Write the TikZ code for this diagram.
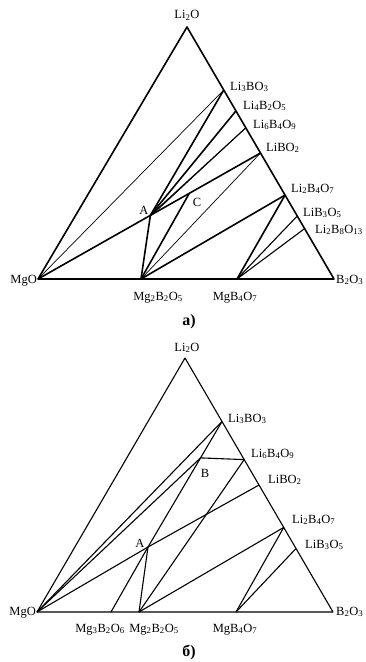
\documentclass[tikz,border=0pt]{standalone}
\usepackage{fontspec}
\setmainfont{Liberation Serif}
\usetikzlibrary{calc}
\newcommand{\idx}[1]{\textsubscript{#1}}

\begin{document}
\begin{tikzpicture}[x=1pt, y=-1pt, line join=round,
  thk/.style={line width=1.6pt},
  mid/.style={line width=1.1pt},
  thn/.style={line width=0.7pt},
  lbl/.style={font=\fontsize{12.5}{14}\selectfont, inner sep=0pt},
  captxt/.style={font=\fontsize{16}{18}\selectfont\bfseries, inner sep=0pt}]
  \useasboundingbox (0,0) rectangle (365,662);

  % --- a) ---
  \coordinate (aLi) at (187,27);
  \coordinate (aMg) at (38,279);
  \coordinate (aB)  at (334,279);
  \coordinate (aLi3BO3)   at ($(aLi)!0.25!(aB)$);
  \coordinate (aLi4B2O5)  at ($(aLi)!0.333!(aB)$);
  \coordinate (aLi6B4O9)  at ($(aLi)!0.4!(aB)$);
  \coordinate (aLiBO2)    at ($(aLi)!0.5!(aB)$);
  \coordinate (aLi2B4O7)  at ($(aLi)!0.667!(aB)$);
  \coordinate (aLiB3O5)   at ($(aLi)!0.75!(aB)$);
  \coordinate (aLi2B8O13) at ($(aLi)!0.8!(aB)$);
  \coordinate (aMg2B2O5)  at (141,279);
  \coordinate (aMgB4O7)   at (237,279);
  \coordinate (aA)  at ($(aMg)!0.505!(aLiBO2)$);
  \coordinate (aA2) at ($(aMg)!0.52!(aLiBO2)$);
  \coordinate (aC)  at ($(aMg)!0.68!(aLiBO2)$);

  \draw[thk] (aLi) -- (aB) -- (aMg) -- cycle;
  \draw[thn] (aMg) -- (aLi3BO3);
  \draw[thk] (aMg) -- (aLiBO2);
  \draw[thk] (aA) -- (aLi3BO3);
  \draw[thk] (aA) -- (aLi4B2O5);
  \draw[mid] (aA) -- (aLi6B4O9);
  \draw[thn] (aA2) -- (aLi6B4O9);
  \draw[thk] (aMg2B2O5) -- (aA);
  \draw[thk] (aMg2B2O5) -- (aC);
  \draw[thn] (aMg2B2O5) -- (aLiBO2);
  \draw[thk] (aMg2B2O5) -- (aLi2B4O7);
  \draw[thk] (aMgB4O7) -- (aLi2B4O7);
  \draw[mid] (aMgB4O7) -- (aLiB3O5);
  \draw[mid] (aMgB4O7) -- (aLi2B8O13);

  \node[lbl, anchor=base]      (taLi)   at (187,18.5) {Li\idx{2}O};
  \node[lbl, anchor=base west] (taL3)   at (230,90)   {Li\idx{3}BO\idx{3}};
  \node[lbl, anchor=base west] (taL4)   at (243,109)  {Li\idx{4}B\idx{2}O\idx{5}};
  \node[lbl, anchor=base west] (taL6)   at (253,128)  {Li\idx{6}B\idx{4}O\idx{9}};
  \node[lbl, anchor=base west] (taLB)   at (266,151)  {LiBO\idx{2}};
  \node[lbl, anchor=base west] (taL2B4) at (291,192)  {Li\idx{2}B\idx{4}O\idx{7}};
  \node[lbl, anchor=base west] (taLB3)  at (303,216)  {LiB\idx{3}O\idx{5}};
  \node[lbl, anchor=base west] (taL2B8) at (315,233)  {Li\idx{2}B\idx{8}O\idx{13}};
  \node[lbl, anchor=base east] (taMg)   at (37,283)   {MgO};
  \node[lbl, anchor=base east] (taB)    at (363.5,283) {B\idx{2}O\idx{3}};
  \node[lbl, anchor=base]      (taM2)   at (158,300)  {Mg\idx{2}B\idx{2}O\idx{5}};
  \node[lbl, anchor=base]      (taM1)   at (235,300)  {MgB\idx{4}O\idx{7}};
  \node[lbl, anchor=base]      (taA)    at (144,214)  {A};
  \node[lbl, anchor=base]      (taC)    at (197,206)  {C};
  \node[captxt, anchor=base]   (capa)   at (189,325)  {а)};

  % --- б) ---
  \coordinate (bLi) at (185,358);
  \coordinate (bMg) at (37,612);
  \coordinate (bB)  at (333,612);
  \coordinate (bLi3BO3)  at ($(bLi)!0.25!(bB)$);
  \coordinate (bLi6B4O9) at ($(bLi)!0.4!(bB)$);
  \coordinate (bLiBO2)   at ($(bLi)!0.5!(bB)$);
  \coordinate (bLi2B4O7) at ($(bLi)!0.667!(bB)$);
  \coordinate (bLiB3O5)  at ($(bLi)!0.75!(bB)$);
  \coordinate (bMg3B2O6) at (111,612);
  \coordinate (bMg2B2O5) at (139,612);
  \coordinate (bMgB4O7)  at (236,612);
  \coordinate (bA) at (148,547);
  \coordinate (bPB) at ($(bA)!0.71!(bLi3BO3)$);

  \draw[mid] (bLi) -- (bB) -- (bMg) -- cycle;
  \draw[mid] (bMg) -- (bLi3BO3);
  \draw[mid] (bMg) -- (bPB);
  \draw[mid] (bMg) -- (bA);
  \draw[mid] (bA) -- (bLi3BO3);
  \draw[mid] (bPB) -- (bLi6B4O9);
  \draw[mid] (bA) -- (bLiBO2);
  \draw[mid] (bA) -- (bMg3B2O6);
  \draw[mid] (bA) -- (bMg2B2O5);
  \draw[mid] (bMg2B2O5) -- (bLi6B4O9);
  \draw[mid] (bMg2B2O5) -- (bLi2B4O7);
  \draw[mid] (bMgB4O7) -- (bLi2B4O7);
  \draw[mid] (bMgB4O7) -- (bLiB3O5);

  \node[lbl, anchor=base]      (tbLi)   at (187,351)  {Li\idx{2}O};
  \node[lbl, anchor=base west] (tbL3)   at (228,422)  {Li\idx{3}BO\idx{3}};
  \node[lbl, anchor=base west] (tbL6)   at (251,457)  {Li\idx{6}B\idx{4}O\idx{9}};
  \node[lbl, anchor=base west] (tbLB)   at (268,483)  {LiBO\idx{2}};
  \node[lbl, anchor=base west] (tbL2B4) at (292,523)  {Li\idx{2}B\idx{4}O\idx{7}};
  \node[lbl, anchor=base west] (tbLB3)  at (305,548)  {LiB\idx{3}O\idx{5}};
  \node[lbl, anchor=base east] (tbMg)   at (36,615)   {MgO};
  \node[lbl, anchor=base east] (tbB)    at (363.5,615) {B\idx{2}O\idx{3}};
  \node[lbl, anchor=base]      (tbM3)   at (100,632)  {Mg\idx{3}B\idx{2}O\idx{6}};
  \node[lbl, anchor=base]      (tbM2)   at (154,632)  {Mg\idx{2}B\idx{2}O\idx{5}};
  \node[lbl, anchor=base]      (tbM1)   at (235,632)  {MgB\idx{4}O\idx{7}};
  \node[lbl, anchor=base]      (tbA)    at (140,547)  {A};
  \node[lbl, anchor=base]      (tbB2)   at (205,477)  {B};
  \node[captxt, anchor=base]   (capb)   at (189,656)  {б)};
\end{tikzpicture}
\end{document}
